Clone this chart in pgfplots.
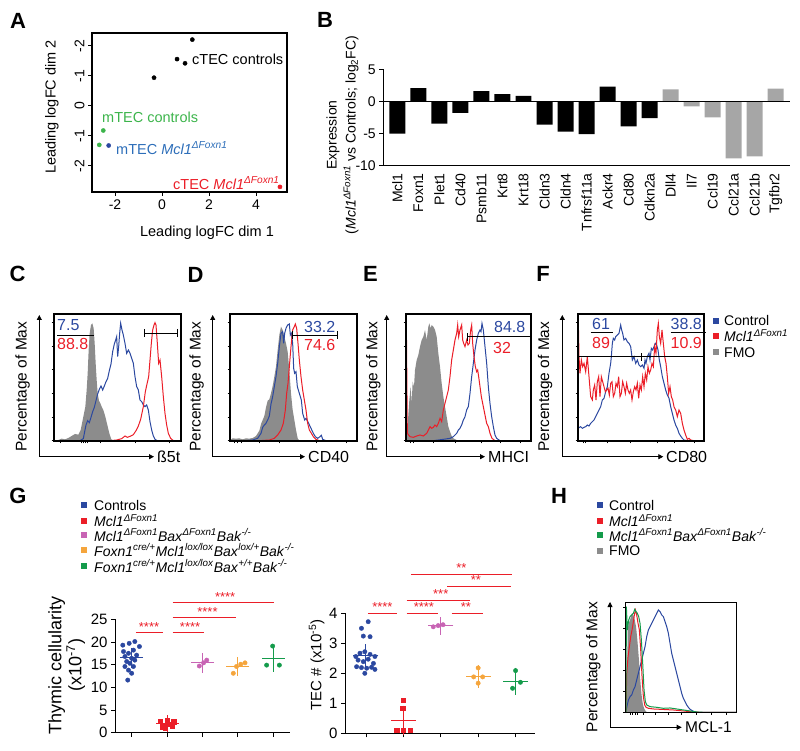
\documentclass[border=0pt]{standalone}
\usepackage{pgfplots}
\pgfplotsset{compat=1.18}
\usepackage{fontspec}
\setmainfont{Liberation Sans}
\usetikzlibrary{arrows.meta}
\definecolor{cblue}{RGB}{43,72,160}
\definecolor{cred}{RGB}{235,30,40}
\definecolor{cgray}{RGB}{140,140,140}
\definecolor{cgreenA}{RGB}{60,180,75}
\definecolor{cblueA}{RGB}{45,110,185}
\definecolor{cpink}{RGB}{200,100,180}
\definecolor{corange}{RGB}{245,165,60}
\definecolor{cgreen}{RGB}{20,155,75}
\definecolor{barg}{RGB}{166,166,166}
\newcommand{\fs}[1]{\fontsize{#1}{#1}\selectfont}
\newcommand{\gt}[2]{\textit{#1}\textsuperscript{\textit{#2}}}
\pgfplotsset{/pgf/number format/assume math mode=true,
  flow/.style={anchor=south west, scale only axis, y dir=reverse, axis lines=box,
    axis line style={black, line width=1.2pt}, xticklabels={}, yticklabels={},
    xtick pos=left, ytick pos=left, tick align=outside, major tick length=2.5pt,
    tick style={line width=0.5pt, black}},
  fl/.style={line width=1pt}
}
\tikzset{lab/.style={inner sep=0pt}, box/.style={draw=black, line width=1.3pt, fill=none}}
\begin{document}
\begin{tikzpicture}[x=1pt,y=1pt]
\useasboundingbox (0pt,0pt) rectangle (800pt,750pt);
% ---------- letters
\foreach \l/\x/\y in {A/18/729.5,B/325/730,C/17.5/476,D/195.5/475.5,E/370.5/476.5,F/543/476.5,G/18/254,H/559/254}
  \node[font=\fs{22}\bfseries] at (\x pt,\y pt) {\l};
% ---------- Panel A
\begin{axis}[at={(92pt,558pt)}, anchor=south west, scale only axis, width=195pt, height=159pt, axis lines=box,
  xmin=-2.98, xmax=5.32, ymin=-2.87, ymax=2.43,
  xtick={-2,0,2,4}, ytick={-2,-1,0,1,2}, yticklabels={-2,-1,0,-1,-2},
  xtick pos=left, ytick pos=left, tick align=outside, major tick length=4pt,
  axis line style={black, line width=1.2pt}, tick style={line width=0.8pt,black},
  yticklabel style={rotate=90, anchor=south},
  ticklabel style={font=\fs{14}}]
\addplot[only marks, mark=*, mark size=2.1pt, black] coordinates {(1.29,2.21)(0.64,1.56)(0.98,1.42)(-0.34,0.94)};
\addplot[only marks, mark=*, mark size=2.1pt, cgreenA] coordinates {(-2.50,-0.82)(-2.67,-1.30)};
\addplot[only marks, mark=*, mark size=2.1pt, cblue] coordinates {(-2.27,-1.32)};
\addplot[only marks, mark=*, mark size=2.1pt, cred] coordinates {(5.02,-2.70)};
\end{axis}
\path[box] (92pt,558pt) -- (287pt,558pt) -- (287pt,717pt) -- (92pt,717pt) -- cycle;
\node[lab, anchor=west, font=\fs{14.5}] at (192pt,691pt) {cTEC controls};
\node[lab, anchor=west, font=\fs{14.5}, text=cgreenA] at (102pt,633pt) {mTEC controls};
\node[lab, anchor=west, font=\fs{14.5}, text=cblueA] at (116pt,602pt) {mTEC \gt{Mcl1}{ΔFoxn1}};
\node[lab, anchor=west, font=\fs{14.5}, text=cred] at (173pt,567pt) {cTEC \gt{Mcl1}{ΔFoxn1}};
\node[font=\fs{14.5}] at (207pt,517pt) {Leading logFC dim 1};
\node[font=\fs{14.5}, rotate=90] at (52pt,643pt) {Leading logFC dim 2};
% ---------- Panel B
\begin{axis}[at={(383.3pt,584.3pt)}, anchor=south west, scale only axis, width=406.7pt, height=96.4pt,
  xmin=-0.67, xmax=18.68, ymin=-10, ymax=5,
  axis x line*=bottom, axis y line*=left, axis line style={line width=0.9pt},
  ytick={-10,-5,0,5}, xtick={0,...,18},
  xticklabels={Mcl1,Foxn1,Plet1,Cd40,Psmb11,Krt8,Krt18,Cldn3,Cldn4,Tnfrsf11a,Ackr4,Cd80,Cdkn2a,Dll4,Il7,Ccl19,Ccl21a,Ccl21b,Tgfbr2},
  xticklabel style={rotate=90, anchor=east, font=\fs{14}},
  yticklabel style={font=\fs{14}},
  xtick style={draw=none}, ytick style={line width=0.9pt,black},
  tick align=outside, major tick length=4pt]
\addplot[ybar, bar width=0.76, bar shift=0pt, fill=black, draw=none] coordinates {
 (0,-5.0)(1,2.06)(2,-3.45)(3,-1.8)(4,1.6)(5,1.13)(6,0.88)(7,-3.6)(8,-4.7)(9,-5.1)(10,2.32)(11,-3.9)(12,-2.58)};
\addplot[ybar, bar width=0.76, bar shift=0pt, fill=barg, draw=none] coordinates {
 (13,1.86)(14,-0.77)(15,-2.47)(16,-8.87)(17,-8.56)(18,2.0)};
\addplot[black, line width=0.9pt] coordinates {(-0.67,0)(18.68,0)};
\end{axis}
\node[rotate=90, align=center, font=\fontsize{14}{19}\selectfont] at (342.5pt,615pt) {Expression\\(\gt{Mcl1}{ΔFoxn1} vs Controls; log\textsubscript{2}FC)};
% ---------- flow arrows and labels
\foreach \xa/\xb in {39.3/154, 212.7/305, 386.7/485, 562.3/663.3} {
  \draw[line width=0.8pt, -{Triangle[length=5pt,width=5pt]}] (\xa pt,293.3pt) -- (\xa pt,435pt);
  \draw[line width=0.8pt, -{Triangle[length=5pt,width=5pt]}] (\xa pt,293.3pt) -- (\xb pt,293.3pt);
}
\node[lab, anchor=west, font=\fs{16}] at (157pt,293.3pt) {ß5t};
\node[lab, anchor=west, font=\fs{16}] at (308pt,293.3pt) {CD40};
\node[lab, anchor=west, font=\fs{16}] at (488pt,293.3pt) {MHCI};
\node[lab, anchor=west, font=\fs{16}] at (666pt,293.3pt) {CD80};
\foreach \xp in {22.7,196.7,373.3,545} \node[font=\fs{15.5}, rotate=90] at (\xp pt,363.3pt) {Percentage of Max};
% ---------- Panel C
\begin{axis}[flow, at={(54pt,309pt)}, width=127pt, height=127pt, xmin=12, xmax=393, ymin=12, ymax=393,
  ytick={37,108,179,250,321,392}, xtick={30,95,100,106,113,150,255,357}]
\addplot[draw=none, fill=cgray] coordinates {(12,392)(25,390)(35,386)(45,388)(55,384)(65,378)(75,372)(85,374)(92,360)(97,335)(102,310)(106,290)(110,240)(113,190)(116,120)(119,70)(123,45)(127,40)(131,55)(134,100)(137,160)(140,210)(143,250)(147,272)(151,280)(155,290)(160,300)(166,320)(172,345)(178,370)(184,388)(190,392)} -- cycle;
\addplot[fl, cblue] coordinates {(12,392)(90,392)(100,386)(104,365)(108,345)(113,332)(118,338)(123,322)(128,305)(133,292)(138,272)(143,252)(148,238)(153,228)(158,240)(163,228)(168,215)(173,205)(178,182)(183,162)(188,125)(193,102)(197,90)(200,80)(203,140)(206,110)(209,70)(212,40)(216,60)(220,75)(225,100)(230,130)(235,120)(240,130)(245,145)(250,160)(255,200)(260,230)(265,240)(270,270)(275,275)(280,285)(285,290)(290,285)(295,300)(300,335)(305,360)(310,378)(315,388)(322,392)(393,392)};
\addplot[fl, cred] coordinates {(12,392)(180,392)(200,390)(215,386)(225,378)(232,382)(240,379)(250,374)(258,362)(265,348)(272,328)(280,290)(286,245)(291,222)(296,200)(300,150)(304,100)(308,60)(312,45)(315,38)(318,45)(322,100)(326,160)(330,150)(335,200)(340,260)(345,310)(350,345)(355,370)(362,385)(370,392)(393,392)};
\end{axis}
\path[box] (54pt,309pt) -- (181pt,309pt) -- (181pt,436pt) -- (54pt,436pt) -- cycle;
\node[lab, anchor=west, font=\fs{16}, text=cblue] at (57pt,424.5pt) {7.5};
\node[lab, anchor=west, font=\fs{16}, text=cred] at (57pt,406.5pt) {88.8};
\draw[line width=0.9pt] (57pt,415pt) -- (94pt,415pt);
\draw[line width=0.9pt] (144pt,417pt) -- (177pt,417pt) (144pt,413pt) -- (144pt,421pt) (177pt,413pt) -- (177pt,421pt);
% ---------- Panel D
\begin{axis}[flow, at={(230pt,309pt)}, width=127pt, height=127pt, xmin=12, xmax=393, ymin=12, ymax=393,
  ytick={37,108,179,250,321,392}, xtick={25,35,45,100,160,270,360}]
\addplot[draw=none, fill=cgray] coordinates {(12,392)(12,390)(20,385)(30,386)(40,385)(50,388)(60,385)(70,386)(80,384)(90,378)(100,362)(105,342)(110,330)(115,318)(120,292)(125,272)(130,268)(135,250)(140,228)(145,200)(150,170)(155,120)(160,75)(165,50)(170,60)(175,80)(180,100)(185,125)(190,180)(195,250)(200,300)(205,330)(210,360)(215,385)(220,392)} -- cycle;
\addplot[fl, cblue] coordinates {(12,392)(60,392)(80,390)(95,385)(105,370)(110,352)(115,345)(120,340)(125,330)(130,318)(135,282)(140,260)(145,230)(150,200)(155,160)(160,110)(165,70)(170,65)(173,100)(176,70)(180,55)(185,45)(190,42)(193,75)(196,70)(200,100)(203,175)(206,190)(210,185)(214,230)(220,250)(226,270)(230,310)(236,330)(240,325)(248,340)(255,355)(262,370)(268,380)(275,385)(282,380)(286,376)(290,388)(300,392)(393,392)};
\addplot[fl, cred] coordinates {(12,392)(100,392)(130,390)(145,385)(155,375)(165,360)(172,340)(178,300)(182,250)(186,220)(190,170)(195,110)(200,60)(205,50)(208,42)(212,55)(216,100)(220,150)(225,200)(230,240)(235,270)(240,300)(245,340)(250,360)(255,368)(262,380)(270,388)(280,392)(393,392)};
\end{axis}
\path[box] (230pt,309pt) -- (357pt,309pt) -- (357pt,436pt) -- (230pt,436pt) -- cycle;
\node[lab, anchor=west, font=\fs{16}, text=cblue] at (304pt,423.3pt) {33.2};
\node[lab, anchor=west, font=\fs{16}, text=cred] at (304pt,404.7pt) {74.6};
\draw[line width=0.9pt] (292.7pt,415pt) -- (337.7pt,415pt) (292.7pt,411pt) -- (292.7pt,419pt) (337.7pt,411pt) -- (337.7pt,419pt);
% ---------- Panel E
\begin{axis}[flow, at={(406pt,309pt)}, width=125pt, height=127pt, xmin=18, xmax=393, ymin=12, ymax=393,
  ytick={37,108,179,250,321,392}, xtick={30,40,100,165,245,300,360}]
\addplot[draw=none, fill=cgray] coordinates {(20,392)(24,330)(28,270)(32,230)(35,280)(38,215)(42,230)(45,180)(50,150)(55,135)(60,110)(65,90)(70,80)(75,60)(80,90)(85,50)(88,40)(92,55)(95,45)(100,50)(105,60)(110,80)(115,130)(120,170)(125,220)(130,260)(135,290)(140,320)(145,350)(150,365)(155,378)(160,385)(170,390)(180,392)} -- cycle;
\addplot[fl, cblue] coordinates {(19,392)(100,392)(130,388)(150,385)(160,380)(170,370)(175,360)(180,355)(185,345)(190,330)(195,320)(200,300)(205,290)(210,250)(215,200)(220,160)(225,120)(230,90)(235,70)(240,60)(243,65)(246,40)(250,60)(255,110)(260,160)(265,230)(270,280)(275,320)(280,350)(285,375)(290,385)(300,392)(393,392)};
\addplot[fl, cred] coordinates {(19,392)(19,37)(22,370)(30,380)(40,382)(50,378)(60,375)(70,378)(80,370)(90,350)(95,355)(100,352)(105,345)(110,350)(115,340)(120,325)(125,335)(130,300)(135,280)(140,260)(145,240)(150,200)(155,150)(160,120)(165,90)(170,70)(173,45)(176,80)(180,60)(185,45)(188,90)(191,100)(195,110)(200,90)(204,105)(208,100)(212,60)(215,45)(218,100)(222,140)(226,170)(230,185)(233,180)(236,200)(240,230)(244,260)(248,280)(252,300)(256,320)(260,340)(265,350)(270,370)(276,385)(285,392)(393,392)};
\end{axis}
\path[box] (406pt,309pt) -- (531pt,309pt) -- (531pt,436pt) -- (406pt,436pt) -- cycle;
\node[lab, anchor=west, font=\fs{16}, text=cblue] at (494pt,423.3pt) {84.8};
\node[lab, anchor=west, font=\fs{16}, text=cred] at (493pt,402.5pt) {32};
\draw[line width=0.9pt] (467.7pt,413.3pt) -- (531pt,413.3pt) (467.7pt,409.3pt) -- (467.7pt,417.3pt);
% ---------- Panel F
\begin{axis}[flow, at={(578pt,309pt)}, width=126pt, height=127pt, xmin=12, xmax=390, ymin=12, ymax=393,
  ytick={37,108,179,250,321,392}, xtick={28,35,100,170,250,300,360}]
\addplot[fl, cblue] coordinates {(12,355)(20,350)(25,355)(30,352)(35,350)(40,345)(45,348)(50,340)(55,335)(60,330)(65,320)(70,310)(75,300)(80,290)(85,270)(90,265)(95,245)(100,230)(105,190)(110,160)(112,140)(115,100)(118,85)(122,90)(125,80)(130,75)(135,70)(140,45)(143,60)(146,70)(150,90)(155,85)(160,95)(165,100)(170,110)(175,150)(180,140)(185,160)(190,150)(195,165)(200,170)(205,165)(210,175)(213,150)(216,160)(220,140)(225,130)(228,150)(232,115)(236,120)(240,110)(244,100)(248,105)(252,120)(256,150)(260,170)(265,200)(270,220)(275,240)(280,255)(285,265)(290,290)(295,310)(300,330)(305,345)(310,355)(315,370)(320,378)(325,385)(330,390)(340,392)(390,392)};
\addplot[fl, cred] coordinates {(13,392)(13,37)(15,140)(18,190)(22,150)(26,170)(30,160)(35,185)(40,140)(45,200)(50,260)(55,270)(58,240)(62,225)(66,270)(70,215)(74,200)(78,260)(82,200)(86,215)(90,230)(94,245)(98,240)(102,235)(106,255)(110,220)(114,215)(118,260)(122,250)(126,220)(130,230)(134,200)(138,260)(142,250)(146,215)(150,230)(154,250)(158,220)(162,240)(166,250)(170,240)(174,270)(178,245)(182,230)(186,240)(190,220)(194,265)(198,225)(202,240)(206,200)(210,230)(214,190)(218,210)(222,170)(226,190)(230,180)(234,160)(238,170)(242,110)(246,130)(250,60)(253,40)(256,80)(260,100)(264,60)(268,100)(272,140)(276,160)(280,200)(284,250)(288,230)(292,260)(296,270)(300,290)(305,300)(310,320)(315,300)(320,310)(325,340)(330,360)(335,375)(340,388)(345,385)(350,390)(360,392)(390,392)};
\end{axis}
\path[box] (578pt,309pt) -- (704pt,309pt) -- (704pt,436pt) -- (578pt,436pt) -- cycle;
\draw[line width=0.9pt] (578pt,393.3pt) -- (704pt,393.3pt) (641.7pt,389.3pt) -- (641.7pt,397.3pt);
\node[lab, anchor=west, font=\fs{16}, text=cblue] at (592pt,426.5pt) {61};
\node[lab, anchor=west, font=\fs{16}, text=cred] at (592pt,407pt) {89};
\draw[line width=0.9pt] (590.7pt,417.7pt) -- (613pt,417.7pt);
\node[lab, anchor=west, font=\fs{16}, text=cblue] at (670.5pt,426.5pt) {38.8};
\node[lab, anchor=west, font=\fs{16}, text=cred] at (670.5pt,407pt) {10.9};
\draw[line width=0.9pt] (670.7pt,417.3pt) -- (705.7pt,417.3pt);
% F legend
\foreach \c/\yy in {cblue/429.3, cred/414, cgray/397.7} \fill[\c] (713pt,\yy pt-3pt) rectangle (719pt,\yy pt+3pt);
\node[lab, anchor=west, font=\fs{14}] at (724pt,429.3pt) {Control};
\node[lab, anchor=west, font=\fs{14}] at (724pt,414pt) {\gt{Mcl1}{ΔFoxn1}};
\node[lab, anchor=west, font=\fs{14}] at (724pt,397.7pt) {FMO};
% ---------- Panel G legend
\foreach \c/\yy in {cblue/245, cred/229.3, cpink/215, corange/200, cgreen/184} \fill[\c] (81.3pt,\yy pt-3pt) rectangle (87.3pt,\yy pt+3pt);
\node[lab, anchor=west, font=\fs{14}] at (94pt,245pt) {Controls};
\node[lab, anchor=west, font=\fs{14}] at (94pt,229.3pt) {\gt{Mcl1}{ΔFoxn1}};
\node[lab, anchor=west, font=\fs{14}] at (94pt,215pt) {\gt{Mcl1}{ΔFoxn1}\gt{Bax}{ΔFoxn1}\gt{Bak}{-/-}};
\node[lab, anchor=west, font=\fs{14}] at (94pt,200pt) {\gt{Foxn1}{cre/+}\gt{Mcl1}{lox/lox}\gt{Bax}{lox/+}\gt{Bak}{-/-}};
\node[lab, anchor=west, font=\fs{14}] at (94pt,184pt) {\gt{Foxn1}{cre/+}\gt{Mcl1}{lox/lox}\gt{Bax}{+/+}\gt{Bak}{-/-}};
% ---------- Panel G left
\begin{axis}[at={(115pt,17.3pt)}, anchor=south west, scale only axis, width=175pt, height=113.4pt,
  xmin=-0.47, xmax=4.47, ymin=0, ymax=25, clip=false,
  axis x line*=bottom, axis y line*=left, axis line style={line width=0.9pt},
  xtick={0,...,4}, xticklabels={}, ytick={0,5,...,25},
  tick align=outside, major tick length=4pt, tick style={line width=0.9pt,black},
  yticklabel style={font=\fs{15}}]
\addplot[only marks, mark=*, mark size=2.2pt, cblue] coordinates {(-0.25,19.3)(-0.07,19.7)(0.09,20.1)(0.22,19.0)(-0.23,17.9)(-0.09,17.5)(0.05,18.2)(0.14,17.1)(-0.19,16.8)(0.0,16.4)(0.09,16.0)(-0.14,15.7)(-0.05,15.3)(-0.19,14.6)(0.05,14.6)(-0.09,13.8)(0.0,13.1)(-0.11,11.6)};
\addplot[only marks, mark=square*, mark size=2.2pt, cred] coordinates {(0.81,2.6)(1.0,2.8)(1.19,2.4)(0.91,1.7)(1.09,1.9)(0.95,0.96)(0.86,1.3)(1.14,1.5)};
\addplot[only marks, mark=*, mark size=2.2pt, cpink] coordinates {(1.91,14.7)(2.12,16.0)(2.03,15.4)};
\addplot[only marks, mark=*, mark size=2.2pt, corange] coordinates {(2.87,13.1)(2.96,14.6)(3.08,15.1)(3.2,15.4)};
\addplot[only marks, mark=*, mark size=2.2pt, cgreen] coordinates {(3.98,19.1)(3.81,14.9)(4.17,14.9)};
\foreach \c/\xx/\m/\s in {cblue/0/16.5/0.65, cred/1/2.0/0.25, cpink/2/15.4/0.65, corange/3/14.6/0.5, cgreen/4/16.3/1.3} {
  \edef\tmp{\noexpand\addplot[\c, line width=1pt, only marks, mark=-, mark size=11.5pt, mark options={line width=1pt}, error bars/.cd, y dir=both, y explicit, error mark=-, error mark options={mark size=7pt, line width=1pt, \c}, error bar style={line width=1pt, \c}] coordinates {(\xx,\m) +- (0,\s)};}
  \tmp
}
\addplot[cred, line width=1pt] coordinates {(0.12,22.1)(0.88,22.1)};
\addplot[cred, line width=1pt] coordinates {(1.16,22.1)(2.04,22.1)};
\addplot[cred, line width=1pt] coordinates {(1.16,25.3)(2.94,25.3)};
\addplot[cred, line width=1pt] coordinates {(1.16,28.7)(4.02,28.7)};
\node[cred, font=\fs{13}] at (axis cs:0.49,23.4) {****};
\node[cred, font=\fs{13}] at (axis cs:1.65,23.4) {****};
\node[cred, font=\fs{13}] at (axis cs:2.14,26.6) {****};
\node[cred, font=\fs{13}] at (axis cs:2.64,30.0) {****};
\end{axis}
\node[rotate=90, align=center, font=\fontsize{18}{20}\selectfont] at (66.7pt,85pt) {Thymic cellularity\\(x10\textsuperscript{-7})};
% ---------- Panel G right
\begin{axis}[at={(345pt,16.7pt)}, anchor=south west, scale only axis, width=190pt, height=120pt,
  xmin=-0.56, xmax=4.52, ymin=0, ymax=4, clip=false,
  axis x line*=bottom, axis y line*=left, axis line style={line width=0.9pt},
  xtick={0,...,4}, xticklabels={}, ytick={0,...,4},
  tick align=outside, major tick length=4pt, tick style={line width=0.9pt,black},
  yticklabel style={font=\fs{15}}]
\addplot[only marks, mark=*, mark size=2.2pt, cblue] coordinates {(-0.12,3.5)(0.06,3.72)(-0.07,3.24)(0.11,3.22)(-0.27,2.56)(-0.16,2.67)(-0.03,2.72)(0.11,2.63)(0.24,2.56)(-0.21,2.44)(-0.07,2.39)(0.06,2.47)(0.2,2.33)(-0.25,2.22)(-0.12,2.19)(0.02,2.17)(0.15,2.2)(0.24,2.13)(-0.03,2.0)};
\addplot[only marks, mark=square*, mark size=2.2pt, cred] coordinates {(1.0,1.11)(0.98,0.83)(0.82,0.11)(1.0,0.11)(1.18,0.11)};
\addplot[only marks, mark=*, mark size=2.2pt, cpink] coordinates {(1.8,3.55)(1.93,3.59)(2.06,3.62)};
\addplot[only marks, mark=*, mark size=2.2pt, corange] coordinates {(3.0,2.18)(2.88,1.88)(3.12,1.88)(3.0,1.67)};
\addplot[only marks, mark=*, mark size=2.2pt, cgreen] coordinates {(4.0,2.09)(4.13,1.7)(3.92,1.5)};
\foreach \c/\xx/\m/\s in {cblue/0/2.59/0.12, cred/1/0.44/0.22, cpink/2/3.58/0.03, corange/3/1.89/0.11, cgreen/4/1.74/0.18} {
  \edef\tmp{\noexpand\addplot[\c, line width=1pt, only marks, mark=-, mark size=12.5pt, mark options={line width=1pt}, error bars/.cd, y dir=both, y explicit, error mark=-, error mark options={mark size=8pt, line width=1pt, \c}, error bar style={line width=1pt, \c}] coordinates {(\xx,\m) +- (0,\s)};}
  \tmp
}
\addplot[cred, line width=1pt] coordinates {(0.05,4.0)(0.83,4.0)};
\addplot[cred, line width=1pt] coordinates {(1.09,4.0)(1.93,4.0)};
\addplot[cred, line width=1pt] coordinates {(2.29,4.0)(3.14,4.0)};
\addplot[cred, line width=1pt] coordinates {(1.09,4.44)(2.78,4.44)};
\addplot[cred, line width=1pt] coordinates {(2.17,4.91)(3.87,4.91)};
\addplot[cred, line width=1pt] coordinates {(1.2,5.31)(3.9,5.31)};
\node[cred, font=\fs{13}] at (axis cs:0.44,4.22) {****};
\node[cred, font=\fs{13}] at (axis cs:1.55,4.22) {****};
\node[cred, font=\fs{13}] at (axis cs:2.67,4.22) {**};
\node[cred, font=\fs{13}] at (axis cs:2.0,4.65) {***};
\node[cred, font=\fs{13}] at (axis cs:2.94,5.1) {**};
\node[cred, font=\fs{13}] at (axis cs:2.55,5.52) {**};
\end{axis}
\node[rotate=90, font=\fs{15}] at (316.7pt,85pt) {TEC \# (x10\textsuperscript{-5})};
% ---------- Panel H
\foreach \c/\yy in {cblue/245, cred/229.3, cgreen/215, cgray/199.3} \fill[\c] (597pt,\yy pt-3pt) rectangle (603pt,\yy pt+3pt);
\node[lab, anchor=west, font=\fs{14}] at (609pt,245pt) {Control};
\node[lab, anchor=west, font=\fs{14}] at (609pt,229.3pt) {\gt{Mcl1}{ΔFoxn1}};
\node[lab, anchor=west, font=\fs{14}] at (609pt,215pt) {\gt{Mcl1}{ΔFoxn1}\gt{Bax}{ΔFoxn1}\gt{Bak}{-/-}};
\node[lab, anchor=west, font=\fs{14}] at (609pt,199.3pt) {FMO};
\draw[line width=0.8pt, -{Triangle[length=5pt,width=5pt]}] (610pt,22.7pt) -- (610pt,148pt);
\draw[line width=0.8pt, -{Triangle[length=5pt,width=5pt]}] (610pt,22.7pt) -- (681.7pt,22.7pt);
\node[lab, anchor=west, font=\fs{15.5}] at (685pt,22.7pt) {MCL-1};
\node[font=\fs{15.5}, rotate=90] at (593.3pt,83pt) {Percentage of Max};
\begin{axis}[flow, at={(625.7pt,37.7pt)}, width=111pt, height=110pt, xmin=77, xmax=410, ymin=37, ymax=367,
  ytick={52,115,178,241,304,367}, xtick={92,98,105,112,130,165,205,245,290,335,378}]
\addplot[draw=none, fill=cgray] coordinates {(78,367)(80,360)(83,120)(86,100)(90,90)(93,80)(96,70)(100,75)(104,90)(108,110)(112,150)(116,200)(120,260)(124,310)(128,340)(132,355)(136,362)(140,366)(145,367)} -- cycle;
\addplot[fl, cblue] coordinates {(77,367)(85,330)(90,320)(95,315)(100,300)(105,290)(110,270)(115,250)(120,230)(125,210)(130,190)(135,170)(140,140)(145,120)(150,110)(155,100)(160,90)(165,80)(170,70)(175,60)(180,65)(185,75)(190,80)(195,95)(200,110)(205,130)(210,160)(215,190)(220,210)(225,230)(230,250)(235,270)(240,290)(245,310)(250,325)(255,335)(260,345)(265,352)(270,358)(280,364)(290,367)(410,367)};
\addplot[fl, cred] coordinates {(78,367)(80,250)(84,200)(88,170)(92,140)(96,120)(100,95)(103,75)(106,60)(110,75)(114,100)(118,120)(122,180)(126,260)(130,320)(134,345)(138,352)(145,355)(160,357)(180,358)(200,359)(220,360)(240,362)(260,364)(280,366)(300,367)(410,367)};
\addplot[fl, cgreen] coordinates {(78,367)(79,50)(82,120)(86,90)(90,80)(95,75)(100,70)(104,58)(108,65)(112,70)(116,80)(120,100)(124,150)(128,220)(132,300)(136,335)(140,345)(150,350)(170,352)(190,355)(210,354)(230,357)(250,360)(270,363)(290,366)(310,367)(410,367)};
\end{axis}
\path[box] (625.7pt,37.7pt) -- (736.7pt,37.7pt) -- (736.7pt,147.7pt) -- (625.7pt,147.7pt) -- cycle;
\end{tikzpicture}
\end{document}
